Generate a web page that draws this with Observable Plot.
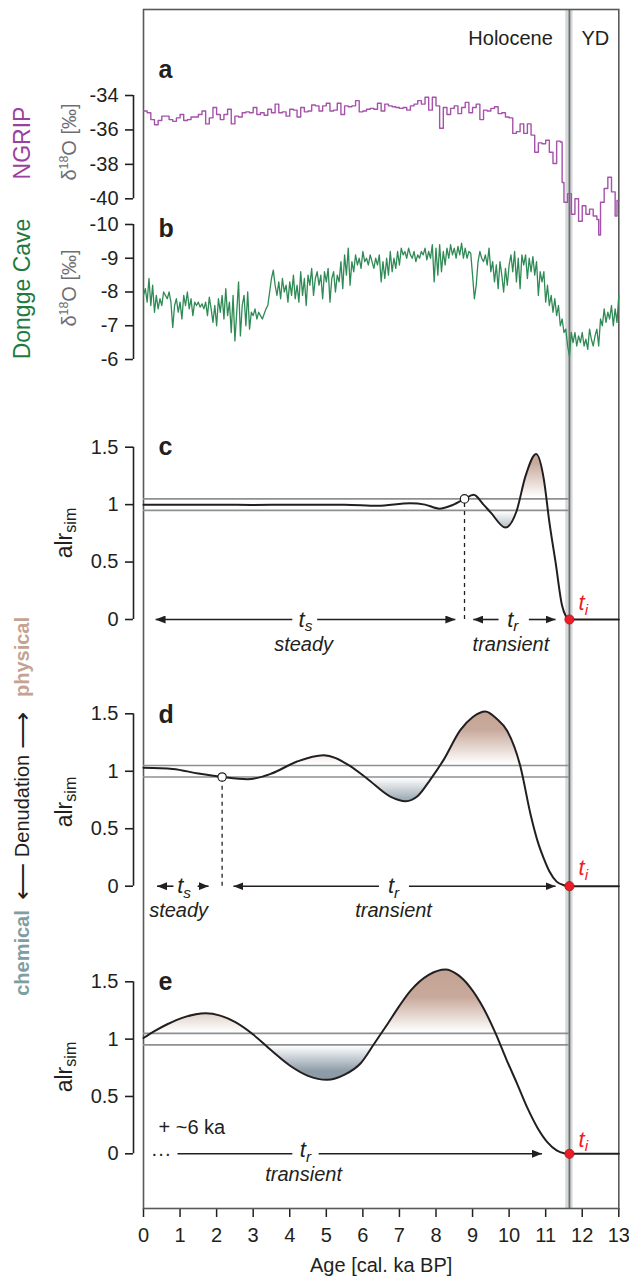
<!DOCTYPE html>
<html><head><meta charset="utf-8">
<script src="https://cdn.jsdelivr.net/npm/d3@7"></script>
<script src="https://cdn.jsdelivr.net/npm/@observablehq/plot@0.6"></script>
<style>
html,body{margin:0;padding:0;background:#fff;}
#chart{position:relative;width:629px;height:1280px;font-family:"Liberation Sans",Arial,Helvetica,sans-serif;color:#231f20;overflow:hidden;background:#fff}
#chart svg{position:absolute;left:0;top:0;}
.vlab{position:absolute;transform:translate(-50%,-50%) rotate(-90deg);white-space:nowrap;line-height:1;}
.vlab sup{font-size:0.62em;vertical-align:0.62em;line-height:0;}
.vlab sub{font-size:0.7em;vertical-align:-0.25em;line-height:0;}
.vlab .arr{font-size:1.3em;vertical-align:-0.08em;}
</style></head><body><div id="chart"></div>
<script>
// ---------------- data ----------------
const ageTicks = [0,1,2,3,4,5,6,7,8,9,10,11,12,13];
const ngripTicks = [-34,-36,-38,-40];
const donggeTicks = [-10,-9,-8,-7,-6];
const alrTicks = [0,0.5,1,1.5];

// NGRIP δ18O (age ka, ‰)
const ngrip = [[0,-34.9],[0.1,-35.0],[0.2,-35.4],[0.3,-35.7],[0.4,-35.45],[0.5,-35.2],[0.6,-35.2],[0.7,-35.4],[0.8,-35.5],[0.9,-35.3],
[1.0,-35.1],[1.1,-35.45],[1.2,-35.4],[1.3,-35.25],[1.4,-35.25],[1.5,-35.1],[1.6,-34.9],[1.7,-35.65],[1.8,-35.3],[1.9,-34.7],
[2.0,-35.1],[2.1,-35.4],[2.2,-35.1],[2.3,-34.8],[2.4,-35.65],[2.5,-35.2],[2.6,-35.25],[2.7,-35.0],[2.8,-34.95],[2.9,-35.0],
[3.0,-34.7],[3.1,-35.1],[3.2,-35.0],[3.3,-35.15],[3.4,-34.8],[3.5,-35.0],[3.6,-34.5],[3.7,-35.0],[3.8,-34.95],[3.9,-35.2],
[4.0,-34.8],[4.1,-34.85],[4.2,-35.25],[4.3,-34.7],[4.4,-34.95],[4.5,-34.9],[4.6,-34.55],[4.7,-34.6],[4.8,-34.9],[4.9,-34.6],
[5.0,-34.45],[5.1,-34.9],[5.2,-34.85],[5.3,-34.45],[5.4,-35.1],[5.5,-34.6],[5.6,-34.65],[5.7,-34.6],[5.8,-34.3],[5.9,-34.95],
[6.0,-34.9],[6.1,-34.8],[6.2,-34.75],[6.3,-34.8],[6.4,-34.45],[6.5,-34.9],[6.6,-34.5],[6.7,-34.6],[6.8,-34.65],[6.9,-34.7],
[7.0,-34.75],[7.1,-34.7],[7.2,-34.85],[7.3,-34.6],[7.4,-34.5],[7.5,-34.3],[7.6,-34.5],[7.7,-34.1],[7.8,-34.85],[7.9,-34.1],
[8.0,-34.6],[8.1,-35.9],[8.2,-34.7],[8.3,-35.1],[8.4,-34.75],[8.5,-34.6],[8.6,-35.05],[8.7,-34.7],[8.8,-34.4],[8.9,-35.0],
[9.0,-34.7],[9.1,-34.5],[9.2,-35.4],[9.3,-34.85],[9.4,-34.9],[9.5,-34.75],[9.6,-34.65],[9.7,-35.05],[9.8,-35.0],[9.9,-35.25],
[10.0,-35.3],[10.1,-36.2],[10.2,-36.1],[10.3,-35.65],[10.4,-36.2],[10.5,-35.65],[10.6,-36.3],[10.7,-37.3],[10.8,-36.75],[10.9,-36.8],
[11.0,-36.6],[11.1,-37.3],[11.2,-37.95],[11.3,-36.65],[11.4,-36.7],[11.45,-39.05],[11.5,-40.2],[11.6,-39.7],[11.7,-40.9],[11.8,-40.0],
[11.9,-41.3],[12.0,-40.4],[12.1,-40.9],[12.2,-40.6],[12.3,-41.0],[12.4,-41.2],[12.45,-42.1],[12.5,-40.2],[12.6,-39.4],[12.7,-38.75],
[12.8,-39.6],[12.9,-41.0],[12.95,-40.1],[13.0,-40.1]];

// Dongge Cave δ18O (age ka, ‰)
const dongge = [[0,-7.9],[0.05,-8.1],[0.1,-7.7],[0.15,-8.4],[0.2,-7.6],[0.25,-8.2],[0.3,-7.4],[0.35,-7.9],[0.4,-7.5],[0.45,-7.8],
[0.5,-7.6],[0.55,-8.0],[0.6,-7.9],[0.65,-7.8],[0.7,-8.0],[0.75,-7.7],[0.8,-6.95],[0.85,-7.6],[0.9,-7.8],[0.95,-7.4],
[1.0,-7.7],[1.05,-7.2],[1.1,-7.9],[1.15,-7.6],[1.2,-8.0],[1.25,-7.5],[1.3,-7.8],[1.35,-7.3],[1.4,-7.7],[1.45,-7.6],
[1.5,-7.7],[1.55,-7.55],[1.6,-7.65],[1.65,-7.5],[1.7,-7.7],[1.75,-7.3],[1.8,-7.85],[1.85,-7.5],[1.9,-7.1],[1.95,-7.6],
[2.0,-7.0],[2.05,-7.8],[2.1,-7.4],[2.15,-7.9],[2.2,-7.2],[2.25,-8.1],[2.3,-7.3],[2.35,-7.7],[2.4,-6.8],[2.45,-7.9],
[2.5,-6.55],[2.55,-7.4],[2.6,-8.3],[2.65,-6.7],[2.7,-7.6],[2.75,-7.9],[2.8,-7.0],[2.85,-8.0],[2.9,-6.9],[2.95,-7.4],
[3.0,-7.3],[3.05,-7.5],[3.1,-7.2],[3.15,-7.4],[3.2,-7.3],[3.25,-7.2],[3.3,-7.35],[3.35,-7.5],[3.4,-7.6],[3.45,-8.0],
[3.5,-8.4],[3.55,-8.65],[3.6,-8.2],[3.65,-7.9],[3.7,-8.3],[3.75,-7.8],[3.8,-8.4],[3.85,-8.0],[3.9,-8.2],[3.95,-7.7],
[4.0,-8.3],[4.05,-7.9],[4.1,-8.5],[4.15,-7.8],[4.2,-8.2],[4.25,-7.7],[4.3,-8.6],[4.35,-7.9],[4.4,-8.4],[4.45,-7.6],
[4.5,-8.5],[4.55,-8.2],[4.6,-8.7],[4.65,-7.9],[4.7,-8.4],[4.75,-8.6],[4.8,-8.2],[4.85,-8.5],[4.9,-7.8],[4.95,-8.6],
[5.0,-8.3],[5.05,-8.7],[5.1,-7.7],[5.15,-8.4],[5.2,-8.6],[5.25,-8.0],[5.3,-8.5],[5.35,-8.3],[5.4,-8.9],[5.45,-8.1],
[5.5,-9.1],[5.55,-8.5],[5.6,-9.3],[5.65,-8.2],[5.7,-8.9],[5.75,-8.6],[5.8,-9.1],[5.85,-8.8],[5.9,-9.0],[5.95,-8.7],
[6.0,-9.2],[6.05,-8.9],[6.1,-9.0],[6.15,-8.8],[6.2,-9.1],[6.25,-8.9],[6.3,-8.7],[6.35,-9.0],[6.4,-8.8],[6.45,-9.1],
[6.5,-8.3],[6.55,-8.9],[6.6,-8.4],[6.65,-9.0],[6.7,-8.5],[6.75,-9.2],[6.8,-8.6],[6.85,-9.0],[6.9,-8.7],[6.95,-9.2],
[7.0,-8.8],[7.05,-9.3],[7.1,-9.1],[7.15,-9.2],[7.2,-9.0],[7.25,-9.3],[7.3,-9.1],[7.35,-9.0],[7.4,-9.2],[7.45,-8.9],
[7.5,-9.1],[7.55,-9.0],[7.6,-9.2],[7.65,-9.1],[7.7,-9.3],[7.75,-8.95],[7.8,-9.2],[7.85,-9.0],[7.9,-9.4],[7.95,-8.3],
[8.0,-9.3],[8.05,-8.5],[8.1,-9.4],[8.15,-8.6],[8.2,-9.2],[8.25,-8.8],[8.3,-9.3],[8.35,-9.0],[8.4,-9.4],[8.45,-9.1],
[8.5,-9.3],[8.55,-9.0],[8.6,-9.35],[8.65,-9.1],[8.7,-9.45],[8.75,-9.0],[8.8,-9.3],[8.85,-9.0],[8.9,-9.2],[8.95,-9.15],
[9.0,-8.5],[9.05,-7.8],[9.1,-8.2],[9.15,-8.9],[9.2,-9.2],[9.25,-9.0],[9.3,-8.9],[9.35,-9.1],[9.4,-8.8],[9.45,-9.3],
[9.5,-8.6],[9.55,-8.9],[9.6,-8.3],[9.65,-8.8],[9.7,-8.1],[9.75,-8.9],[9.8,-8.5],[9.85,-8.0],[9.9,-8.7],[9.95,-8.2],
[10.0,-8.8],[10.05,-9.1],[10.1,-8.6],[10.15,-9.2],[10.2,-8.3],[10.25,-9.0],[10.3,-8.1],[10.35,-9.1],[10.4,-8.8],[10.45,-9.1],
[10.5,-8.4],[10.55,-9.0],[10.6,-8.6],[10.65,-9.05],[10.7,-8.5],[10.75,-8.9],[10.8,-7.9],[10.85,-8.6],[10.9,-8.3],[10.95,-8.6],
[11.0,-7.7],[11.05,-8.2],[11.1,-7.6],[11.15,-7.9],[11.2,-7.4],[11.25,-7.8],[11.3,-7.3],[11.35,-7.6],[11.4,-7.0],[11.45,-7.2],
[11.5,-6.8],[11.55,-6.9],[11.6,-6.4],[11.65,-6.1],[11.7,-6.8],[11.75,-6.5],[11.8,-6.8],[11.85,-6.4],[11.9,-6.7],[11.95,-6.5],
[12.0,-6.8],[12.05,-6.4],[12.1,-6.6],[12.15,-6.3],[12.2,-6.9],[12.25,-6.6],[12.3,-6.4],[12.35,-6.7],[12.4,-6.9],[12.45,-6.4],
[12.5,-7.2],[12.55,-7.0],[12.6,-7.5],[12.65,-7.1],[12.7,-7.4],[12.75,-7.2],[12.8,-7.6],[12.85,-7.0],[12.9,-7.5],[12.95,-7.1],[13.0,-7.9]];

// simulated alr (age ka, alr_sim)
const simC = [[0,1.0],[1,1.0],[2,1.0],[3,0.997],[4,1.0],[4.6,1.0],[5.5,1.0],[6.4,0.99],[7.3,1.012],[7.7,1.0],[8.1,0.965],[8.4,0.99],
[8.78,1.05],[9.03,1.085],[9.3,1.0],[9.5,0.93],[9.9,0.80],[10.2,0.94],[10.45,1.25],[10.74,1.44],[10.95,1.22],[11.1,0.85],
[11.27,0.5],[11.45,0.12],[11.55,0.03],[11.65,0],[12,0],[13,0]];
const simD = [[0,1.03],[0.8,1.02],[1.5,0.98],[2.15,0.95],[2.84,0.93],[3.5,0.98],[4.2,1.085],[4.92,1.14],[5.6,1.056],[6.12,0.935],
[6.75,0.78],[7.17,0.74],[7.5,0.785],[7.85,0.93],[8.2,1.095],[8.67,1.36],[9.0,1.47],[9.35,1.52],[9.65,1.46],[9.95,1.35],[10.31,1.04],
[10.59,0.62],[10.8,0.37],[10.95,0.24],[11.1,0.13],[11.3,0.04],[11.5,0.008],[11.65,0],[12,0],[13,0]];
const simE = [[0,1.01],[0.3,1.07],[0.65,1.13],[1.1,1.19],[1.7,1.226],[2.1,1.205],[2.5,1.15],[3.0,1.04],[3.5,0.9],[4.0,0.77],[4.5,0.68],
[5.02,0.645],[5.5,0.69],[5.94,0.79],[6.3,0.955],[6.67,1.13],[7.0,1.29],[7.3,1.42],[7.8,1.56],[8.26,1.607],[8.6,1.56],[8.94,1.45],
[9.3,1.27],[9.63,1.05],[9.93,0.82],[10.22,0.61],[10.5,0.40],[10.77,0.23],[11.05,0.1],[11.3,0.03],[11.5,0.005],[11.65,0],[12,0],[13,0]];

const tI = 11.65;                       // onset of change (ka)
const fillEnd = {c: 11.07, d: 10.34, e: 9.72};  // where shading stops on the final descent
const ydBand = [{x1: 11.55, x2: 11.75}];
const steadyBounds = [0.95, 1.05];
const eraLabels = [{label: "Holocene", x: 10.04}, {label: "YD", x: 12.36}];
const panelLetters = [{p: "a", x: 0.41, y: -32.5}, {p: "b", x: 0.41, y: -9.88}, {p: "c", x: 0.41, y: 1.5}, {p: "d", x: 0.41, y: 1.49}, {p: "e", x: 0.41, y: 1.5}];

const onsetC = [{x: 8.78, y: 1.05}];
const onsetD = [{x: 2.15, y: 0.95}];
const arrowsC = [{x1: 4.07, x2: 0.33}, {x1: 4.75, x2: 8.53}, {x1: 9.71, x2: 9.02}, {x1: 10.54, x2: 11.27}];
const arrowsD = [{x1: 0.82, x2: 0.37}, {x1: 1.48, x2: 1.78}, {x1: 6.44, x2: 2.46}, {x1: 7.26, x2: 11.27}];
const arrowsE = [{x1: 4.79, x2: 10.9}];
const plainE = [{x1: 0.93, x2: 4.07}];
const tLabelsC = [{text: "t_s", x: 4.43, y: 0}, {text: "t_r", x: 10.1, y: 0}];
const tLabelsD = [{text: "t_s", x: 1.11, y: 0}, {text: "t_r", x: 6.84, y: 0}];
const tLabelsE = [{text: "t_r", x: 4.43, y: 0.03}];
const wordsC = [{text: "steady", x: 4.38, y: -0.22}, {text: "transient", x: 10.05, y: -0.22}];
const wordsD = [{text: "steady", x: 0.96, y: -0.21}, {text: "transient", x: 6.84, y: -0.21}];
const wordsE = [{text: "transient", x: 4.38, y: -0.185}];
const notesE = [{text: "+ ~6 ka", x: 0.41, y: 0.23}];
const dotsE = [{text: "···", x: 0.48, y: 0}];
const tiLabels = {c: {x: 11.9, y: 0.14}, d: {x: 11.9, y: 0.155}, e: {x: 11.9, y: 0.125}};

// ---------------- style ----------------
const FONT = '"Liberation Sans", Arial, Helvetica, sans-serif';
const INK = "#231f20";
const PURPLE = "#a552ab";
const GREEN = "#2f8a55";
const GREYLINE = "#8d8f91";
const RED = "#ee1c25";
const BROWN = "#c3a293";
const BLUE = "#8898a4";
const W = 629, H = 1280, ML = 143, MR = 10.7;

const chart = document.getElementById("chart");

// base: frame, YD band, onset line, age axis
const base = Plot.plot({
  width: W, height: H, marginLeft: ML, marginRight: MR, marginTop: 9, marginBottom: 72,
  x: {domain: [0, 13], ticks: ageTicks, tickSize: 9, tickPadding: 10, tickFormat: d => String(d),
      label: "Age [cal. ka BP]", labelAnchor: "center", labelArrow: "none", labelOffset: 63},
  y: {axis: null},
  style: {background: "transparent", fontFamily: FONT, fontSize: "20px", color: INK, overflow: "visible"},
  marks: [
    Plot.rect(ydBand, {x1: "x1", x2: "x2", fill: "#d5d8d8"}),
    Plot.ruleX([tI], {stroke: "#6d6e71", strokeWidth: 1.8}),
    Plot.frame({stroke: "#58595b", strokeWidth: 1.6}),
    Plot.text(eraLabels, {x: "x", text: "label", frameAnchor: "top", dy: 21, fontSize: 20, fill: INK})
  ]
});
base.querySelectorAll('g[aria-label="x-axis tick"] path, g[aria-label="x-axis tick"] line').forEach(e => e.setAttribute("stroke-width", 1.5));
chart.appendChild(base);

function panel({top, bottom, domain, reverse, ticks, marks}) {
  return Plot.plot({
    width: W, height: H, marginLeft: ML, marginRight: MR, marginTop: top, marginBottom: H - bottom,
    x: {domain: [0, 13], axis: null},
    y: {domain, reverse, axis: null},
    style: {background: "transparent", fontFamily: FONT, fontSize: "20px", color: INK, overflow: "visible"},
    marks: [
      Plot.ruleX([0], {y1: domain[0], y2: domain[1], dx: -10, stroke: INK, strokeWidth: 1.6}),
      Plot.axisY({ticks, tickSize: 8, tickPadding: 7, dx: -10, tickFormat: d => String(d), fontSize: 20, strokeWidth: 1.6, label: null}),
      ...marks
    ]
  });
}

function letter(p) {
  const d = panelLetters.find(l => l.p === p);
  return Plot.text([d], {x: "x", y: "y", text: "p", textAnchor: "start", fontWeight: "bold", fontSize: 25, fill: INK});
}

function simMarks(id, sim, onset, arrows, plain, tLabels, words, extra) {
  const inner = sim.filter(d => d[0] <= tI);
  const m = [
    Plot.areaY(inner, {x: d => d[0], y1: 1, y2: d => d[1], curve: "monotone-x", fill: `url(#grad-${id})`, ariaDescription: "alr fill"}),
    Plot.ruleY(steadyBounds, {x1: 0, x2: tI, stroke: GREYLINE, strokeWidth: 1.6})
  ];
  if (onset) m.push(Plot.ruleX(onset, {x: "x", y1: 0, y2: "y", stroke: INK, strokeWidth: 1.3, strokeDasharray: "4,4"}));
  m.push(Plot.line(sim, {x: d => d[0], y: d => d[1], curve: "monotone-x", stroke: INK, strokeWidth: 2}));
  if (onset) m.push(Plot.dot(onset, {x: "x", y: "y", r: 4.2, fill: "white", stroke: INK, strokeWidth: 1.2}));
  m.push(Plot.link(arrows, {x1: "x1", x2: "x2", y1: 0, y2: 0, stroke: INK, strokeWidth: 1.6, ariaDescription: "arrow links"}));
  if (plain) m.push(Plot.link(plain, {x1: "x1", x2: "x2", y1: 0, y2: 0, stroke: INK, strokeWidth: 1.6}));
  m.push(Plot.text(tLabels, {x: "x", y: "y", text: "text", fontStyle: "italic", fontSize: 22, fill: INK, ariaDescription: "sub text"}));
  m.push(Plot.text(words, {x: "x", y: "y", text: "text", fontStyle: "italic", fontSize: 20, fill: INK}));
  m.push(Plot.dot([{x: tI, y: 0}], {x: "x", y: "y", r: 4.6, fill: RED, stroke: "#9b1b1f", strokeWidth: 0.8}));
  m.push(Plot.text([tiLabels[id]], {x: "x", y: "y", text: () => "t_i", textAnchor: "start", fontStyle: "italic", fontSize: 22, fill: RED, ariaDescription: "sub text"}));
  m.push(letter(id));
  return m.concat(extra || []);
}

function decorate(svg, id) {
  const s = d3.select(svg);
  const y = svg.scale("y"), x = svg.scale("x");
  const defs = s.insert("defs", ":first-child");
  const y0 = y.apply(1.6), y1 = y.apply(0.6);
  const g = defs.append("linearGradient").attr("id", `grad-${id}`).attr("gradientUnits", "userSpaceOnUse")
    .attr("x1", 0).attr("x2", 0).attr("y1", y0).attr("y2", y1);
  [[1.6, BROWN, 1], [1.36, BROWN, 0.92], [1.06, BROWN, 0], [0.94, BLUE, 0], [0.72, BLUE, 0.95], [0.6, BLUE, 1]].forEach(([v, c, o]) => {
    g.append("stop").attr("offset", (y.apply(v) - y0) / (y1 - y0)).attr("stop-color", c).attr("stop-opacity", o);
  });
  defs.append("clipPath").attr("id", `clip-${id}`).append("rect")
    .attr("x", x.apply(0)).attr("width", x.apply(fillEnd[id]) - x.apply(0)).attr("y", 0).attr("height", H);
  s.selectAll('g[aria-description="alr fill"]').attr("clip-path", `url(#clip-${id})`);
  defs.append("marker").attr("id", `head-${id}`).attr("viewBox", "0 0 10 8").attr("refX", 10).attr("refY", 4)
    .attr("markerWidth", 10).attr("markerHeight", 8).attr("markerUnits", "userSpaceOnUse").attr("orient", "auto")
    .append("path").attr("d", "M0,0L10,4L0,8z").attr("fill", INK);
  s.selectAll('g[aria-description="arrow links"] path').attr("marker-end", `url(#head-${id})`);
  s.selectAll('g[aria-description="sub text"] text').each(function () {
    const [a, b] = this.textContent.split("_");
    this.textContent = "";
    d3.select(this).append("tspan").text(a);
    d3.select(this).append("tspan").attr("font-size", "0.7em").attr("dy", "0.3em").text(b);
  });
}

// panel a: NGRIP
chart.appendChild(panel({top: 95, bottom: 198.3, domain: [-40, -34], reverse: false, ticks: ngripTicks, marks: [
  Plot.line(ngrip, {x: d => d[0], y: d => d[1], curve: "step-after", stroke: PURPLE, strokeWidth: 1.4}),
  letter("a")
]}));

// panel b: Dongge Cave
chart.appendChild(panel({top: 224, bottom: 359, domain: [-10, -6], reverse: true, ticks: donggeTicks, marks: [
  Plot.line(dongge, {x: d => d[0], y: d => d[1], stroke: GREEN, strokeWidth: 1.3}),
  letter("b")
]}));

// panel c
const pc = panel({top: 446.7, bottom: 619, domain: [0, 1.5], reverse: false, ticks: alrTicks,
  marks: simMarks("c", simC, onsetC, arrowsC, null, tLabelsC, wordsC)});
decorate(pc, "c"); chart.appendChild(pc);

// panel d
const pd = panel({top: 713.3, bottom: 885.7, domain: [0, 1.5], reverse: false, ticks: alrTicks,
  marks: simMarks("d", simD, onsetD, arrowsD, null, tLabelsD, wordsD)});
decorate(pd, "d"); chart.appendChild(pd);

// panel e
const pe = panel({top: 981.3, bottom: 1153.3, domain: [0, 1.5], reverse: false, ticks: alrTicks,
  marks: simMarks("e", simE, null, arrowsE, plainE, tLabelsE, wordsE, [
    Plot.text(notesE, {x: "x", y: "y", text: "text", textAnchor: "start", fontSize: 20, fill: INK}),
    Plot.text(dotsE, {x: "x", y: "y", text: "text", fontSize: 20, fill: INK})
  ])});
decorate(pe, "e"); chart.appendChild(pe);

// side labels (rotated)
const sideLabels = [
  {html: "NGRIP", x: 22, y: 143, size: 23, color: "#9b3fa0"},
  {html: "δ<sup>18</sup>O [‰]", x: 69, y: 142, size: 20, color: "#6d6e71"},
  {html: "Dongge Cave", x: 22, y: 289, size: 23, color: "#1f7a3f"},
  {html: "δ<sup>18</sup>O [‰]", x: 69, y: 288, size: 20, color: "#6d6e71"},
  {html: "alr<sub>sim</sub>", x: 64, y: 533, size: 23, color: INK},
  {html: "alr<sub>sim</sub>", x: 64, y: 802, size: 23, color: INK},
  {html: "alr<sub>sim</sub>", x: 64, y: 1067, size: 23, color: INK},
  {html: "physical", x: 22, y: 657, size: 20, color: "#c4a393", bold: true},
  {html: '<span class="arr">⟵</span> Denudation <span class="arr">⟶</span>', x: 22, y: 806, size: 20, color: INK},
  {html: "chemical", x: 22, y: 953, size: 20, color: "#7f9ea4", bold: true}
];
sideLabels.forEach(d => {
  const el = document.createElement("div");
  el.className = "vlab";
  el.style.left = d.x + "px"; el.style.top = d.y + "px";
  el.style.fontSize = d.size + "px"; el.style.color = d.color;
  el.style.fontWeight = d.bold ? "bold" : "normal";
  el.innerHTML = d.html;
  chart.appendChild(el);
});
</script></body></html>
